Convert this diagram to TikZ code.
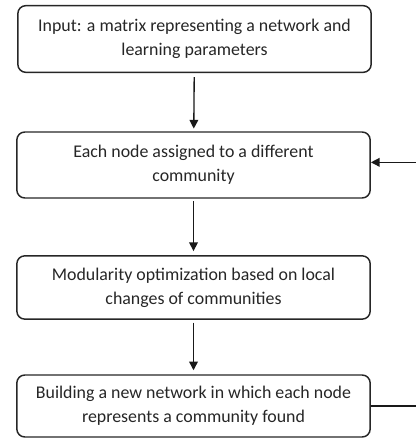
\documentclass[tikz,border=0pt]{standalone}
\usepackage{fontspec}
\setmainfont{Carlito}
\usetikzlibrary{arrows.meta}

\begin{document}
\begin{tikzpicture}[x=0.75pt, y=0.75pt,
    stepbox/.style={draw=black!85, line width=1.1pt, rounded corners=6pt,
        minimum width=265pt, align=center, inner sep=0pt,
        font=\fontsize{13.4}{18}\selectfont, text=black!85},
    flow/.style={draw=black!90, line width=1pt, -{Triangle[length=6.5pt, width=6.5pt]}}]

    \useasboundingbox (0,0) rectangle (415,438);

    \node[stepbox, minimum height=50pt] (input) at (194.5,399)
        {Input: a matrix representing a network and\\learning parameters};
    \node[stepbox, minimum height=49.5pt] (assign) at (193.5,273)
        {Each node assigned to a different\\community};
    \node[stepbox, minimum height=47.5pt] (optim) at (193.5,150.5)
        {Modularity optimization based on local\\changes of communities};
    \node[stepbox, minimum height=46.5pt] (build) at (193.5,32)
        {Building a new network in which each node\\represents a community found};

    \draw[flow, shorten <=3pt, shorten >=2pt] (input) -- (assign);
    \draw[flow, shorten <=2pt, shorten >=3pt] (assign) -- (optim);
    \draw[flow, shorten <=2pt, shorten >=3pt] (optim) -- (build);

    % feedback loop, cut off at the right edge
    \coordinate (back) at (425,32);
    \draw[flow] (build.east) -- (back) |- ([yshift=2pt]assign.east);

\end{tikzpicture}
\end{document}
